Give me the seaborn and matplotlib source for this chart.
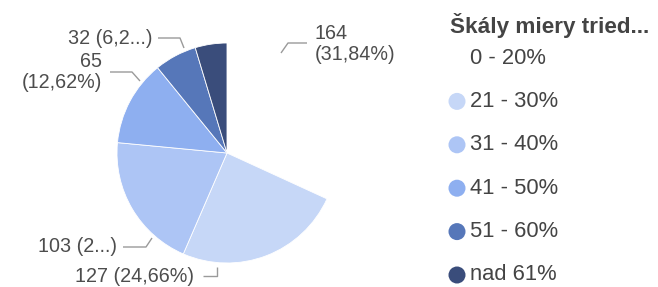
import matplotlib
matplotlib.use('Agg')
import matplotlib.pyplot as plt
import seaborn as sns

# data
kategorie = ['0 - 20%', '21 - 30%', '31 - 40%', '41 - 50%', '51 - 60%', 'nad 61%']
pocty = [164, 127, 103, 65, 32, 24]
farby = ['#ffffff', '#c6d7f7', '#adc5f5', '#8eaff0', '#5677b9', '#3a4d7b']
popisky = ['164\n(31,84%)', '127 (24,66%)', '103 (2...)', '65\n(12,62%)', '32 (6,2...)', '']
nazov_legendy = 'Škály miery tried...'

sns.set_theme(style='white')
plt.rcParams['font.family'] = ['Liberation Sans', 'DejaVu Sans']

W, H = 658, 287
fig = plt.figure(figsize=(W / 100, H / 100), dpi=100)
ax = fig.add_axes([0, 0, 1, 1])


def Y(y):
    # pixel od vrchu -> suradnica osi
    return H - y


ax.pie(pocty, colors=farby, startangle=90, counterclock=False,
       center=(227, Y(153)), radius=110,
       wedgeprops=dict(edgecolor='white', linewidth=0.6))
ax.set_xlim(0, W)
ax.set_ylim(0, H)
ax.set_aspect('auto')
ax.axis('off')

text_farba = '#4d4d4d'
ciara_farba = '#9a9a9a'
fs_popis = 14.2

# rozlozenie popiskov: (x, y, zarovnanie, body ciary)
rozlozenie = [
    (315, 44, 'left', [(281, 53), (288, 43), (307, 43)]),
    (75, 276, 'left', [(203, 276), (217, 276), (217, 267)]),
    (117, 247, 'right', [(123, 247), (146, 247), (152, 238)]),
    (102, 72, 'right', [(110, 72), (132, 72), (140, 81)]),
    (152, 38, 'right', [(158, 38), (180, 38), (184, 48)]),
    None,
]

for popis, layout in zip(popisky, rozlozenie):
    if layout is None or not popis:
        continue
    x, y, ha, body = layout
    ax.text(x, Y(y), popis, ha=ha, va='center', fontsize=fs_popis,
            color=text_farba, linespacing=1.1)
    ax.plot([p[0] for p in body], [Y(p[1]) for p in body],
            color=ciara_farba, linewidth=1.0, solid_capstyle='butt')

# legenda
ax.text(450, Y(25), nazov_legendy, ha='left', va='center', fontsize=16.2,
        fontweight='bold', color='#444444')
for i, (kat, farba) in enumerate(zip(kategorie, farby)):
    y = 58 + i * 43.4
    ax.scatter([457], [Y(y)], s=150, color=farba, edgecolors='none')
    ax.text(470, Y(y), kat, ha='left', va='center', fontsize=15.8,
            color='#444444')

fig.savefig('out.png', dpi=100)
